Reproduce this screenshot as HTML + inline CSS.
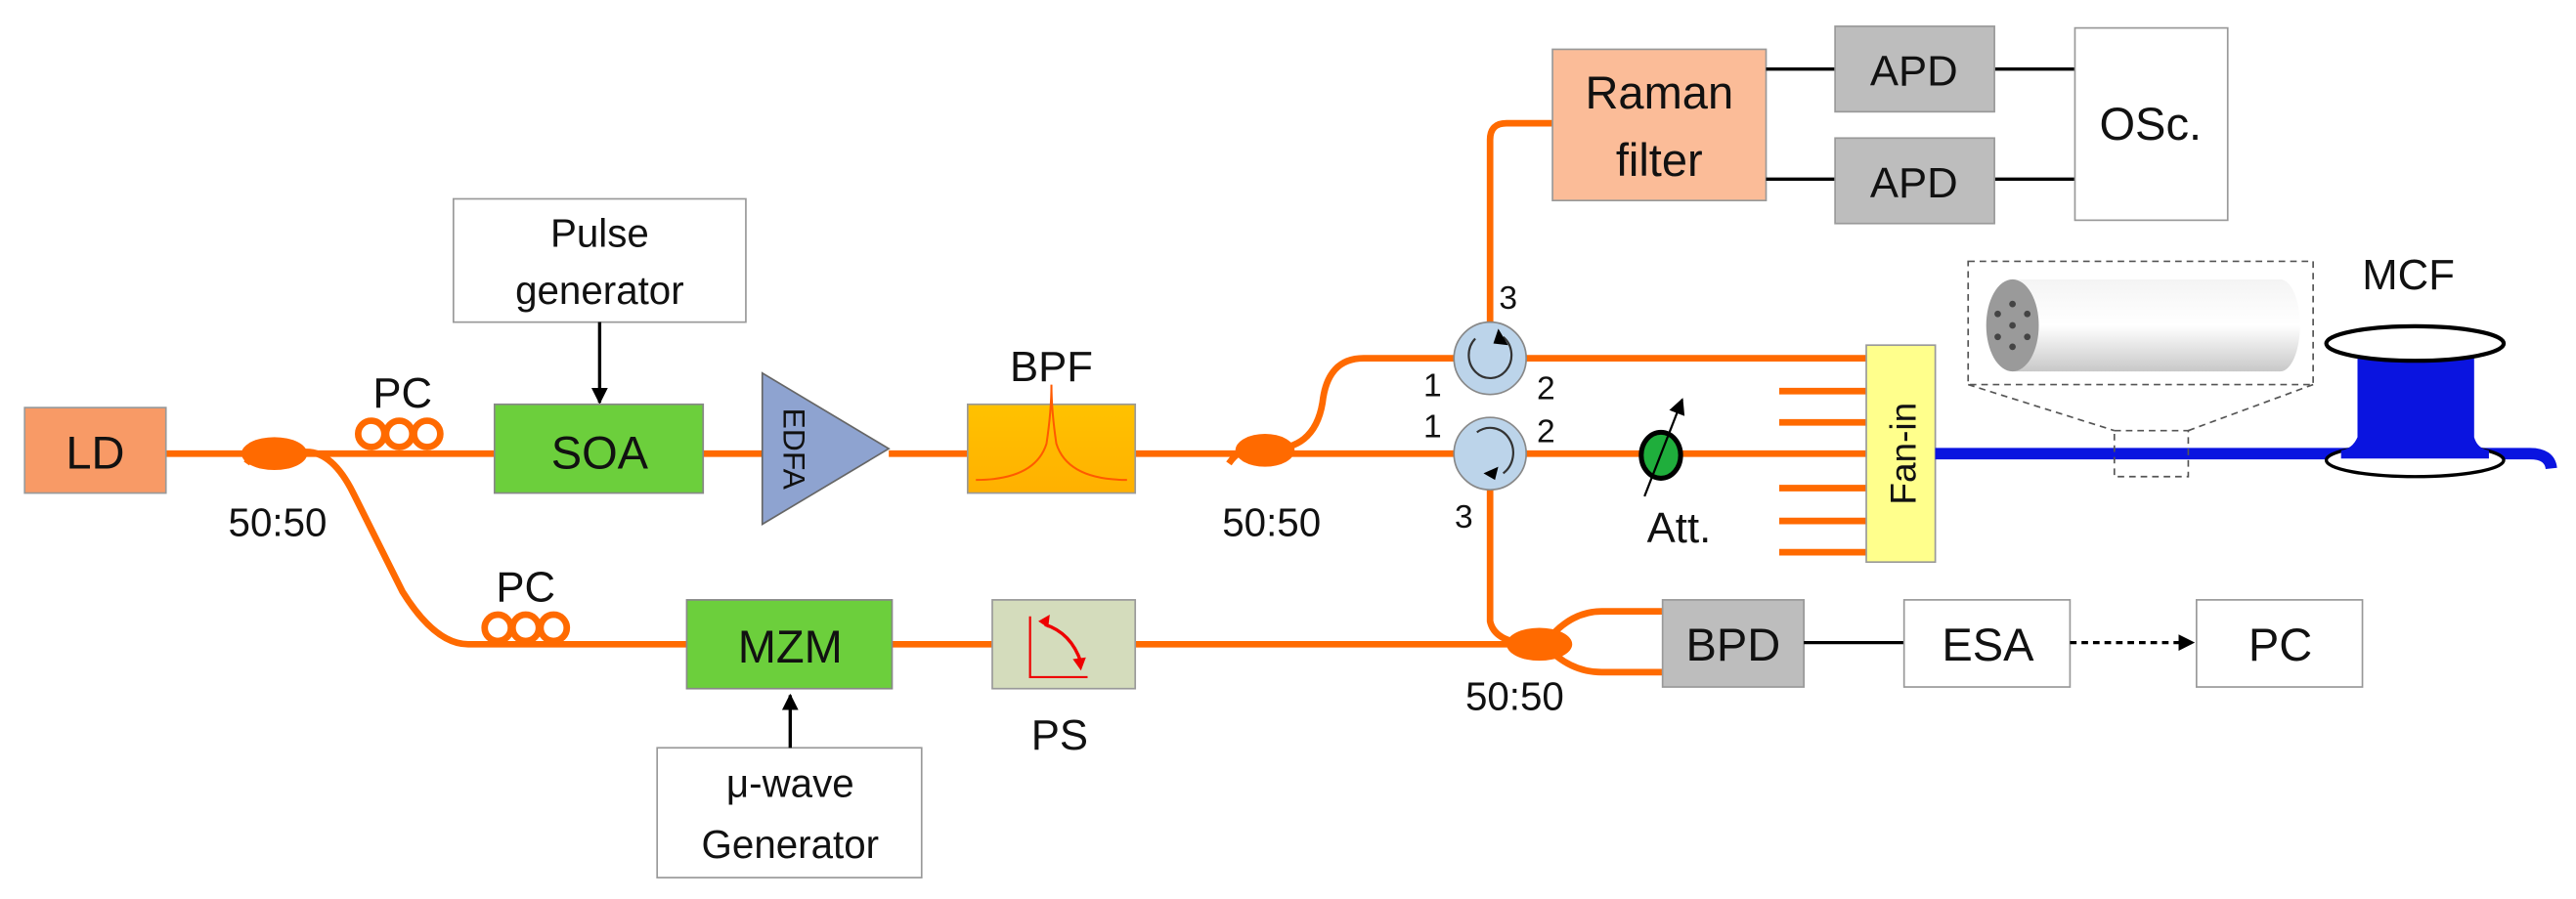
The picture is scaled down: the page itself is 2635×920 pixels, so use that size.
<!DOCTYPE html>
<html><head><meta charset="utf-8"><style>
html,body{margin:0;padding:0;background:#fff}
svg{display:block}
text{font-family:"Liberation Sans",sans-serif;fill:#111}
</style></head><body>
<svg width="2635" height="920" viewBox="0 0 1568 547" preserveAspectRatio="none" xmlns="http://www.w3.org/2000/svg">
<defs>
<marker id="ah" markerWidth="10" markerHeight="10" refX="9" refY="5" orient="auto" markerUnits="userSpaceOnUse"><path d="M0,0 L10,5 L0,10 z" fill="#000"/></marker>
<linearGradient id="cyl" x1="0" y1="0" x2="0" y2="1"><stop offset="0" stop-color="#f4f4f4"/><stop offset="0.5" stop-color="#fff"/><stop offset="1" stop-color="#c8c8c8"/></linearGradient>
<linearGradient id="bpf" x1="0" y1="0" x2="0" y2="1"><stop offset="0" stop-color="#ffc200"/><stop offset="1" stop-color="#ffb000"/></linearGradient>
</defs>
<g fill="none" stroke="#ff6a00" stroke-width="4">
<path d="M101,276 H301"/><path d="M428,276 H464"/><path d="M541,276 H589"/><path d="M691,276 H885"/>
<path d="M150,282 Q157,272 167,276"/>
<path d="M180,276 Q200,270 215,300 L245,360 Q265,392 285,392 H418"/>
<path d="M543,392 H604"/><path d="M691,392 H936"/>
<circle cx="226" cy="264" r="8"/><circle cx="243" cy="264" r="8"/><circle cx="260" cy="264" r="8"/>
<circle cx="303" cy="382" r="8"/><circle cx="320" cy="382" r="8"/><circle cx="337" cy="382" r="8"/>
<path d="M748,282 Q755,272 765,273"/>
<path d="M770,273 Q800,275 805,245 Q808,218 830,218 H885"/>
<path d="M929,218 H1136"/>
<path d="M907,196 V85 Q907,75 917,75 H945"/>
<path d="M929,276 H1136"/>
<path d="M907,298 V378 Q910,392 936,392"/>
<path d="M940,392 Q955,372 975,372 H1012"/><path d="M940,392 Q955,409 975,409 H1012"/>
<path d="M1083,238 H1136 M1083,257 H1136 M1083,297 H1136 M1083,317 H1136 M1083,336 H1136"/>
</g>
<ellipse cx="167" cy="276" rx="20" ry="10" fill="#ff6a00"/>
<ellipse cx="770" cy="274" rx="18" ry="10" fill="#ff6a00"/>
<ellipse cx="937" cy="392" rx="20" ry="10" fill="#ff6a00"/>
<rect x="15" y="248" width="86" height="52" fill="#f89a66" stroke="#999"/>
<text x="58" y="285" font-size="28" text-anchor="middle">LD</text>
<text x="245" y="248" font-size="26" text-anchor="middle">PC</text>
<text x="320" y="366" font-size="26" text-anchor="middle">PC</text>
<text x="169" y="326" font-size="24" text-anchor="middle">50:50</text>
<text x="774" y="326" font-size="24" text-anchor="middle">50:50</text>
<text x="922" y="432" font-size="24" text-anchor="middle">50:50</text>
<rect x="276" y="121" width="178" height="75" fill="#fff" stroke="#999"/>
<text x="365" y="150" font-size="24" text-anchor="middle">Pulse</text>
<text x="365" y="185" font-size="24" text-anchor="middle">generator</text>
<line x1="365" y1="196" x2="365" y2="245" stroke="#000" stroke-width="2" marker-end="url(#ah)"/>
<rect x="301" y="246" width="127" height="54" fill="#6ccf3c" stroke="#888"/>
<text x="365" y="285" font-size="28" text-anchor="middle">SOA</text>
<polygon points="464,227 464,319 541,273" fill="#8ea3d0" stroke="#666"/>
<text transform="translate(477,273) rotate(90)" font-size="19" text-anchor="middle" fill="#222">EDFA</text>
<rect x="589" y="246" width="102" height="54" fill="url(#bpf)" stroke="#999"/>
<path d="M594,292 Q630,292 637,270 Q640,250 640,234 Q640,250 643,270 Q650,292 686,292" fill="none" stroke="#ff5a00" stroke-width="1.2"/>
<text x="640" y="232" font-size="26" text-anchor="middle">BPF</text>
<rect x="418" y="365" width="125" height="54" fill="#6ccf3c" stroke="#888"/>
<text x="481" y="403" font-size="28" text-anchor="middle">MZM</text>
<rect x="400" y="455" width="161" height="79" fill="#fff" stroke="#999"/>
<text x="481" y="485" font-size="24" text-anchor="middle">μ-wave</text>
<text x="481" y="522" font-size="24" text-anchor="middle">Generator</text>
<line x1="481" y1="455" x2="481" y2="423" stroke="#000" stroke-width="2" marker-end="url(#ah)"/>
<rect x="604" y="365" width="87" height="54" fill="#d4dcbc" stroke="#999"/>
<path d="M627,375 V412 H662" fill="none" stroke="#e00" stroke-width="1.3"/>
<path d="M636,380 Q652,385 658,403" fill="none" stroke="#e00" stroke-width="2"/>
<path d="M632,378 l7,-4 l-1,8 z M658,408 l-5,-7 l8,-1 z" fill="#e00"/>
<text x="645" y="456" font-size="26" text-anchor="middle">PS</text>
<g stroke="#888" stroke-width="1" fill="#bcd4ea">
<ellipse cx="907" cy="218" rx="22" ry="22"/><ellipse cx="907" cy="276" rx="22" ry="22"/>
</g>
<path d="M915,205 A13,14 0 1 1 898,206" fill="none" stroke="#333" stroke-width="1.3"/>
<path d="M912,200 l6,10 l-9,-1 z" fill="#000"/>
<path d="M899,263 A13,14 0 1 1 915,288" fill="none" stroke="#333" stroke-width="1.3"/>
<path d="M910,292 l-7,-4 l9,-4 z" fill="#000"/>
<text x="918" y="188" font-size="20" text-anchor="middle">3</text>
<text x="872" y="241" font-size="20" text-anchor="middle">1</text>
<text x="941" y="243" font-size="20" text-anchor="middle">2</text>
<text x="872" y="266" font-size="20" text-anchor="middle">1</text>
<text x="941" y="269" font-size="20" text-anchor="middle">2</text>
<text x="891" y="321" font-size="20" text-anchor="middle">3</text>
<ellipse cx="1011" cy="277" rx="12" ry="14" fill="#1fae3c" stroke="#000" stroke-width="3"/>
<line x1="1001" y1="302" x2="1024" y2="243" stroke="#000" stroke-width="1.3" marker-end="url(#ah)"/>
<text x="1022" y="330" font-size="26" text-anchor="middle">Att.</text>
<rect x="1136" y="210" width="42" height="132" fill="#ffff8c" stroke="#999"/>
<text transform="translate(1166,276) rotate(-90)" font-size="22" text-anchor="middle">Fan-in</text>
<rect x="945" y="30" width="130" height="92" fill="#fbbc98" stroke="#999"/>
<text x="1010" y="66" font-size="28" text-anchor="middle">Raman</text>
<text x="1010" y="107" font-size="28" text-anchor="middle">filter</text>
<g stroke="#000" stroke-width="2"><path d="M1075,42 H1117 M1075,109 H1117 M1214,42 H1263 M1214,109 H1263"/></g>
<rect x="1117" y="16" width="97" height="52" fill="#bdbdbd" stroke="#999"/>
<text x="1165" y="52" font-size="26" text-anchor="middle">APD</text>
<rect x="1117" y="84" width="97" height="52" fill="#bdbdbd" stroke="#999"/>
<text x="1165" y="120" font-size="26" text-anchor="middle">APD</text>
<rect x="1263" y="17" width="93" height="117" fill="#fff" stroke="#999"/>
<text x="1309" y="85" font-size="28" text-anchor="middle">OSc.</text>
<rect x="1012" y="365" width="86" height="53" fill="#bdbdbd" stroke="#999"/>
<text x="1055" y="402" font-size="28" text-anchor="middle">BPD</text>
<line x1="1098" y1="391" x2="1159" y2="391" stroke="#000" stroke-width="2"/>
<rect x="1159" y="365" width="101" height="53" fill="#fff" stroke="#999"/>
<text x="1210" y="402" font-size="28" text-anchor="middle">ESA</text>
<line x1="1260" y1="391" x2="1335" y2="391" stroke="#000" stroke-width="2" stroke-dasharray="4,3" marker-end="url(#ah)"/>
<rect x="1337" y="365" width="101" height="53" fill="#fff" stroke="#999"/>
<text x="1388" y="402" font-size="28" text-anchor="middle">PC</text>
<path d="M1178,276 H1440 M1506,276 H1540 Q1552,276 1553,285" fill="none" stroke="#0a14e0" stroke-width="7"/>
<ellipse cx="1470" cy="280" rx="54" ry="10" fill="#fff" stroke="#000" stroke-width="2"/>
<path d="M1435,212 V266 Q1432,273 1425,274 V279 H1515 V274 Q1508,273 1506,266 V212 z" fill="#0a14e0"/>
<ellipse cx="1470" cy="209" rx="54" ry="10.5" fill="#fff" stroke="#000" stroke-width="2.5"/>
<text x="1466" y="176" font-size="26" text-anchor="middle">MCF</text>
<g fill="none" stroke="#555" stroke-width="1" stroke-dasharray="4,3">
<rect x="1198" y="159" width="210" height="75"/>
<rect x="1287" y="262" width="45" height="28"/>
<path d="M1198,234 L1287,262 M1408,234 L1332,262"/>
</g>
<path d="M1225,170 H1388 A12,28 0 0 1 1388,226 H1225 z" fill="url(#cyl)"/>
<ellipse cx="1225" cy="198" rx="16" ry="28" fill="#9a9a9a"/>
<g fill="#444"><circle cx="1225" cy="198" r="2"/><circle cx="1225" cy="185" r="2"/><circle cx="1225" cy="211" r="2"/><circle cx="1216" cy="191" r="2"/><circle cx="1234" cy="191" r="2"/><circle cx="1216" cy="205" r="2"/><circle cx="1234" cy="205" r="2"/></g>
</svg>
</body></html>
